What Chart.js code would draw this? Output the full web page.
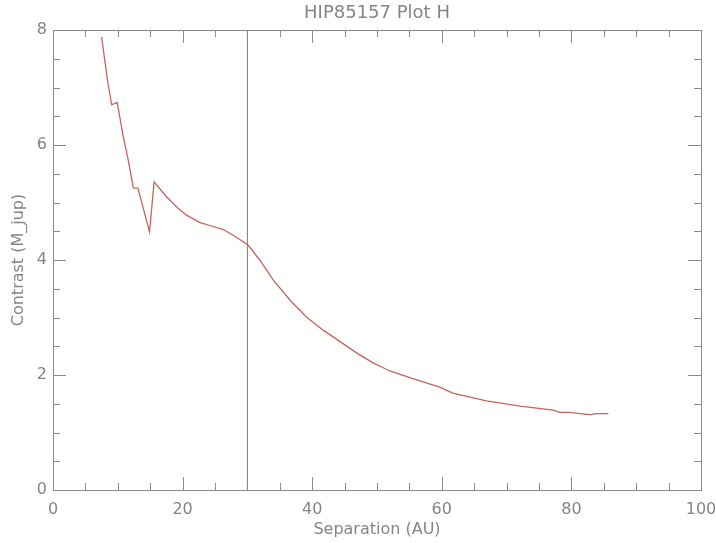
<!DOCTYPE html>
<html>
<head>
<meta charset="utf-8">
<script src="https://cdn.jsdelivr.net/npm/chart.js@4"></script>
<style>
  html, body { margin: 0; padding: 0; background: #fff; }
  #wrap { width: 716px; height: 543px; }
</style>
</head>
<body>
<div id="wrap"><canvas id="grafico"></canvas></div>
<script>
// dados
const separacao = [7.5, 8.4, 9.05, 9.9, 10.85, 11.6, 12.4, 13.1, 14.9, 15.6, 17.5, 19.3, 20.6, 22.7, 24.2, 26.3, 27.8,
  30.1, 31.9, 34.0, 36.6, 39.1, 41.7, 44.3, 46.9, 49.4, 52.0, 54.6, 57.1, 59.7, 61.8, 66.9, 72.1, 77.2, 78.2, 79.8, 81.3, 82.9, 83.9, 85.7];
const contraste = [7.88, 7.13, 6.70, 6.74, 6.14, 5.74, 5.25, 5.25, 4.49, 5.36, 5.10, 4.90, 4.78, 4.65, 4.60, 4.53, 4.43,
  4.26, 4.00, 3.65, 3.30, 3.01, 2.78, 2.58, 2.38, 2.21, 2.07, 1.97, 1.88, 1.79, 1.68, 1.55, 1.46, 1.39, 1.35, 1.35, 1.33, 1.31, 1.33, 1.33];
const linhaVertical = 30;
const xTicks = [0, 20, 40, 60, 80, 100];
const yTicks = [0, 2, 4, 6, 8];

const corTexto = "#858585";
const corEixo = "#8a8a8a";
const fonte = "'DejaVu Sans', sans-serif";

const pontos = separacao.map((x, i) => ({ x, y: contraste[i] }));

// ticks para dentro + caixa + título
const eixosIDL = {
  id: "eixosIDL",
  afterDraw(chart) {
    const { ctx, chartArea: a, scales: { x, y } } = chart;
    ctx.save();
    ctx.strokeStyle = corEixo;
    ctx.lineWidth = 1;
    ctx.strokeRect(a.left + 0.5, a.top + 0.5, a.right - a.left, a.bottom - a.top);
    ctx.beginPath();
    for (let v = 0; v <= 100; v += 5) {
      const px = Math.round(x.getPixelForValue(v)) + 0.5;
      const len = v % 20 === 0 ? 13 : 7;
      ctx.moveTo(px, a.bottom); ctx.lineTo(px, a.bottom - len);
      ctx.moveTo(px, a.top); ctx.lineTo(px, a.top + len);
    }
    for (let v = 0; v <= 8; v += 0.5) {
      const py = Math.round(y.getPixelForValue(v)) + 0.5;
      const len = v % 2 === 0 ? 13 : 7;
      ctx.moveTo(a.left, py); ctx.lineTo(a.left + len, py);
      ctx.moveTo(a.right, py); ctx.lineTo(a.right - len, py);
    }
    ctx.stroke();
    ctx.fillStyle = corTexto;
    ctx.font = "18px " + fonte;
    ctx.textAlign = "center";
    ctx.textBaseline = "middle";
    ctx.fillText("HIP85157 Plot H", (a.left + a.right) / 2, 13);
    ctx.restore();
  }
};

new Chart(document.getElementById("grafico"), {
  type: "scatter",
  data: {
    datasets: [
      {
        data: pontos,
        showLine: true,
        borderColor: "#c4645c",
        borderWidth: 1.3,
        pointRadius: 0,
        tension: 0
      },
      {
        data: [{ x: linhaVertical, y: 0 }, { x: linhaVertical, y: 8 }],
        showLine: true,
        borderColor: "#7a7a7a",
        borderWidth: 1,
        pointRadius: 0
      }
    ]
  },
  options: {
    responsive: true, maintainAspectRatio: false,
    animation: false,
    layout: { padding: { top: 30, right: 15, left: 0, bottom: 0 } },
    plugins: { legend: { display: false }, tooltip: { enabled: false } },
    scales: {
      x: {
        type: "linear", min: 0, max: 100,
        afterFit: s => { s.height = 53; s.paddingLeft = 0; s.paddingRight = 0; },
        afterBuildTicks: s => { s.ticks = xTicks.map(v => ({ value: v })); },
        grid: { display: false, drawTicks: false },
        border: { display: false },
        ticks: { color: corTexto, font: { family: fonte, size: 16 }, padding: 10, maxRotation: 0 },
        title: { display: true, text: "Separation (AU)", color: corTexto, font: { family: fonte, size: 16 }, padding: { bottom: 4 } }
      },
      y: {
        type: "linear", min: 0, max: 8,
        afterFit: s => { s.width = 53; s.paddingTop = 0; s.paddingBottom = 0; },
        afterBuildTicks: s => { s.ticks = yTicks.map(v => ({ value: v })); },
        grid: { display: false, drawTicks: false },
        border: { display: false },
        ticks: { color: corTexto, font: { family: fonte, size: 16 }, padding: 6 },
        title: { display: true, text: "Contrast (M_jup)", color: corTexto, font: { family: fonte, size: 16 }, padding: { top: 9 } }
      }
    }
  },
  plugins: [eixosIDL]
});
</script>
</body>
</html>
